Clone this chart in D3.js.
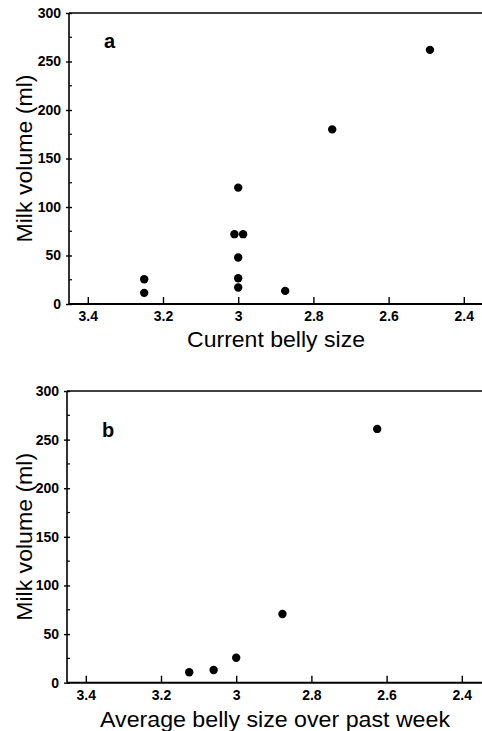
<html>
<head>
<script src="https://cdn.jsdelivr.net/npm/d3@7"></script>
<style>
  body { margin: 0; background: #fff; }
  text { font-family: "Liberation Sans", Arial, sans-serif; }
</style>
</head>
<body>
<svg id="chart" width="482" height="731"></svg>
<script>
// panel a: current belly size vs milk volume
const bellyA = [3.25, 3.25, 3.0, 3.01, 2.987, 3.0, 3.0, 3.0, 2.875, 2.75, 2.49];
const milkA  = [25.5, 11.5, 120, 72, 72, 48, 26.5, 17, 13.5, 180, 262];
// panel b: average belly size over past week vs milk volume
const bellyB = [3.125, 3.06, 3.0, 2.877, 2.625];
const milkB  = [10.7, 13, 25.7, 70.7, 261];

const xTicks = [3.4, 3.2, 3.0, 2.8, 2.6, 2.4];
const yTicks = [0, 50, 100, 150, 200, 250, 300];
const yMinor = [25, 75, 125, 175, 225, 275];

const svg = d3.select("#chart");

function panel(opt) {
  const xs = d3.scaleLinear().domain([3.45, 2.35]).range([opt.left, opt.left + 413.6]);
  const ys = d3.scaleLinear().domain([0, 300]).range([opt.bottom, opt.top]);
  const g = svg.append("g");

  // frame lines
  g.append("line").attr("x1", opt.left).attr("x2", 482).attr("y1", opt.top).attr("y2", opt.top)
    .attr("stroke", "#000").attr("stroke-width", 1.6);
  g.append("line").attr("x1", opt.left).attr("x2", 482).attr("y1", opt.bottom).attr("y2", opt.bottom)
    .attr("stroke", "#000").attr("stroke-width", 2);
  g.append("line").attr("x1", opt.left).attr("x2", opt.left).attr("y1", opt.top).attr("y2", opt.bottom)
    .attr("stroke", "#000").attr("stroke-width", 1.6);

  // x axis, ticks pointing inward
  const xa = g.append("g").attr("transform", "translate(0," + opt.bottom + ")")
    .call(d3.axisBottom(xs).tickValues(xTicks).tickSizeInner(-7).tickSizeOuter(0)
      .tickPadding(7).tickFormat(d3.format("~g")));
  xa.select(".domain").remove();
  xa.selectAll("line").attr("stroke-width", 1.4);
  xa.selectAll("text").attr("font-size", 14).attr("font-weight", "bold").attr("dy", "0.71em");

  // y axis
  const ya = g.append("g").attr("transform", "translate(" + opt.left + ",0)")
    .call(d3.axisLeft(ys).tickValues(yTicks).tickSizeInner(3).tickSizeOuter(0).tickPadding(5));
  ya.select(".domain").remove();
  ya.selectAll("line").attr("x2", 3).attr("x1", -3).attr("stroke-width", 1.4);
  ya.selectAll("text").attr("font-size", 14).attr("font-weight", "bold");

  g.selectAll(".minor").data(yMinor).enter().append("line")
    .attr("x1", opt.left).attr("x2", opt.left + 3)
    .attr("y1", d => ys(d)).attr("y2", d => ys(d))
    .attr("stroke", "#000").attr("stroke-width", 1.2);

  // points
  g.selectAll("circle").data(opt.x).enter().append("circle")
    .attr("cx", d => xs(d))
    .attr("cy", (d, i) => ys(opt.y[i]))
    .attr("r", 4.2)
    .attr("fill", "#000");

  // panel letter
  g.append("text").attr("x", opt.left + 35).attr("y", opt.letterY)
    .attr("font-size", 20).attr("font-weight", "bold").text(opt.letter);

  // axis titles
  g.append("text").attr("x", opt.xTitleX).attr("y", opt.xTitleY)
    .attr("text-anchor", "middle").attr("font-size", 22)
    .attr("textLength", opt.xTitleW).attr("lengthAdjust", "spacingAndGlyphs")
    .text(opt.xTitle);
  g.append("text")
    .attr("transform", "translate(32," + ((opt.top + opt.bottom) / 2 + 0) + ") rotate(-90)")
    .attr("text-anchor", "middle").attr("font-size", 22)
    .attr("textLength", 168).attr("lengthAdjust", "spacingAndGlyphs")
    .text("Milk volume (ml)");
}

panel({ left: 69, top: 13, bottom: 304, x: bellyA, y: milkA, letter: "a", letterY: 48,
  xTitle: "Current belly size", xTitleX: 276, xTitleY: 347, xTitleW: 178 });
panel({ left: 67, top: 391, bottom: 682.7, x: bellyB, y: milkB, letter: "b", letterY: 437,
  xTitle: "Average belly size over past week", xTitleX: 275, xTitleY: 727, xTitleW: 350 });
</script>
</body>
</html>
